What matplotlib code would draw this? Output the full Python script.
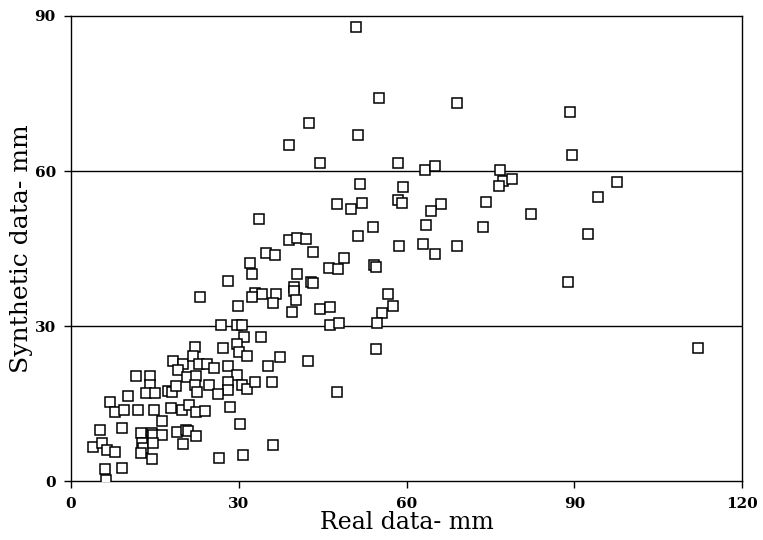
import matplotlib
matplotlib.use("Agg")
import matplotlib.pyplot as plt

real_mm = [
    51.0, 55.1, 69.1, 42.6, 51.4, 39.0, 44.5, 58.5, 63.3, 65.1,
    76.7, 77.3, 78.8, 76.6, 89.6, 89.2, 97.6, 94.3, 82.3, 92.5,
    88.8, 112.2, 66.2, 64.3, 74.3, 63.5, 73.6, 63.0, 69.0, 65.1,
    51.6, 59.4, 47.6, 50.0, 52.0, 58.5, 59.2, 33.6, 54.0, 51.4,
    38.9, 40.5, 42.1, 58.7, 43.2, 34.9, 36.5, 48.8, 32.0, 46.1,
    47.7, 54.1, 54.5, 32.3, 40.5, 28.1, 42.9, 43.3, 39.8, 39.9,
    32.9, 34.1, 32.4, 36.7, 36.2, 40.2, 56.6, 57.5, 55.6, 29.8,
    39.5, 44.5, 46.3, 23.1, 26.8, 29.6, 30.5, 46.3, 48.0, 54.7,
    54.5, 30.9, 33.9, 22.2, 27.2, 29.7, 30.1, 31.5, 37.4, 42.3,
    35.3, 18.3, 20.1, 21.8, 19.1, 22.9, 24.3, 25.6, 28.1, 29.6,
    11.7, 14.1, 14.1, 20.8, 22.4, 22.2, 22.5, 24.7, 28.0, 28.1,
    26.3, 17.4, 18.0, 13.4, 15.0, 18.7, 30.5, 31.4, 32.9, 35.9,
    47.5, 10.1, 7.0, 7.9, 9.4, 12.0, 14.8, 17.8, 19.8, 21.1,
    22.4, 24.0, 28.4, 16.2, 5.2, 9.1, 12.5, 14.4, 14.7, 16.2,
    18.9, 20.6, 21.0, 22.4, 12.7, 12.9, 12.6, 14.7, 20.1, 4.0,
    5.5, 6.5, 7.9, 14.4, 26.5, 30.8, 30.2, 36.1, 6.1, 9.2,
    6.3,
]
synthetic_mm = [
    87.9, 74.2, 73.2, 69.3, 66.9, 65.1, 61.6, 61.6, 60.2, 61.0,
    60.3, 58.1, 58.5, 57.1, 63.2, 71.5, 57.8, 54.9, 51.7, 47.8,
    38.5, 25.7, 53.6, 52.3, 54.0, 49.6, 49.2, 45.9, 45.6, 44.0,
    57.5, 56.9, 53.6, 52.6, 53.9, 54.5, 53.9, 50.7, 49.1, 47.5,
    46.7, 47.0, 46.9, 45.5, 44.4, 44.1, 43.8, 43.1, 42.3, 41.2,
    41.0, 41.8, 41.4, 40.0, 40.1, 38.7, 38.5, 38.3, 37.6, 36.9,
    36.5, 36.2, 35.6, 36.2, 34.5, 35.1, 36.2, 34.0, 32.6, 33.9,
    32.8, 33.3, 33.7, 35.6, 30.2, 30.2, 30.2, 30.2, 30.6, 30.6,
    25.6, 27.9, 27.9, 26.0, 25.8, 26.5, 25.0, 24.3, 24.1, 23.3,
    22.3, 23.3, 22.7, 24.2, 21.6, 22.7, 22.7, 22.0, 22.3, 20.6,
    20.4, 20.4, 18.6, 20.2, 20.4, 18.6, 17.3, 18.6, 19.3, 17.7,
    16.8, 17.5, 17.2, 17.0, 17.0, 18.5, 18.7, 17.9, 19.2, 19.2,
    17.3, 16.5, 15.4, 13.4, 13.7, 13.7, 13.8, 14.2, 13.7, 14.7,
    13.4, 13.6, 14.4, 11.7, 10.0, 10.4, 9.4, 9.4, 9.0, 9.0,
    9.5, 10.0, 9.7, 8.7, 7.5, 6.5, 5.5, 7.4, 7.2, 6.7,
    7.4, 6.0, 5.7, 4.4, 4.6, 5.0, 11.0, 7.0, 2.3, 2.6,
    0.2,
]
x_ticks = [0, 30, 60, 90, 120]
y_ticks = [0, 30, 60, 90]
grid_levels = [30, 60]
x_label = "Real data- mm"
y_label = "Synthetic data- mm"

fig = plt.figure(figsize=(7.63, 5.40), dpi=100)
ax = fig.add_axes([0.0931, 0.1087, 0.8794, 0.8617])

for g in grid_levels:
    ax.axhline(g, color="black", lw=1.0, zorder=1)

ax.plot(real_mm, synthetic_mm, linestyle="none", marker="s", ms=7.2,
        mfc="white", mec="black", mew=1.1, zorder=3)

ax.set_xlim(0, 120)
ax.set_ylim(0, 90)
ax.set_xticks(x_ticks)
ax.set_yticks(y_ticks)
for sp in ax.spines.values():
    sp.set_linewidth(1.0)
ax.tick_params(direction="out", length=5, width=1.0, pad=6)
for lab in ax.get_xticklabels() + ax.get_yticklabels():
    lab.set_family("DejaVu Serif")
    lab.set_fontweight("bold")
    lab.set_fontsize(11)

ax.set_xlabel(x_label, family="DejaVu Serif", fontsize=17)
ax.set_ylabel(y_label, family="DejaVu Serif", fontsize=18)
ax.xaxis.set_label_coords(0.5, -0.064)
ax.yaxis.set_label_coords(-0.056, 0.5)

fig.savefig("out.png", dpi=100)
